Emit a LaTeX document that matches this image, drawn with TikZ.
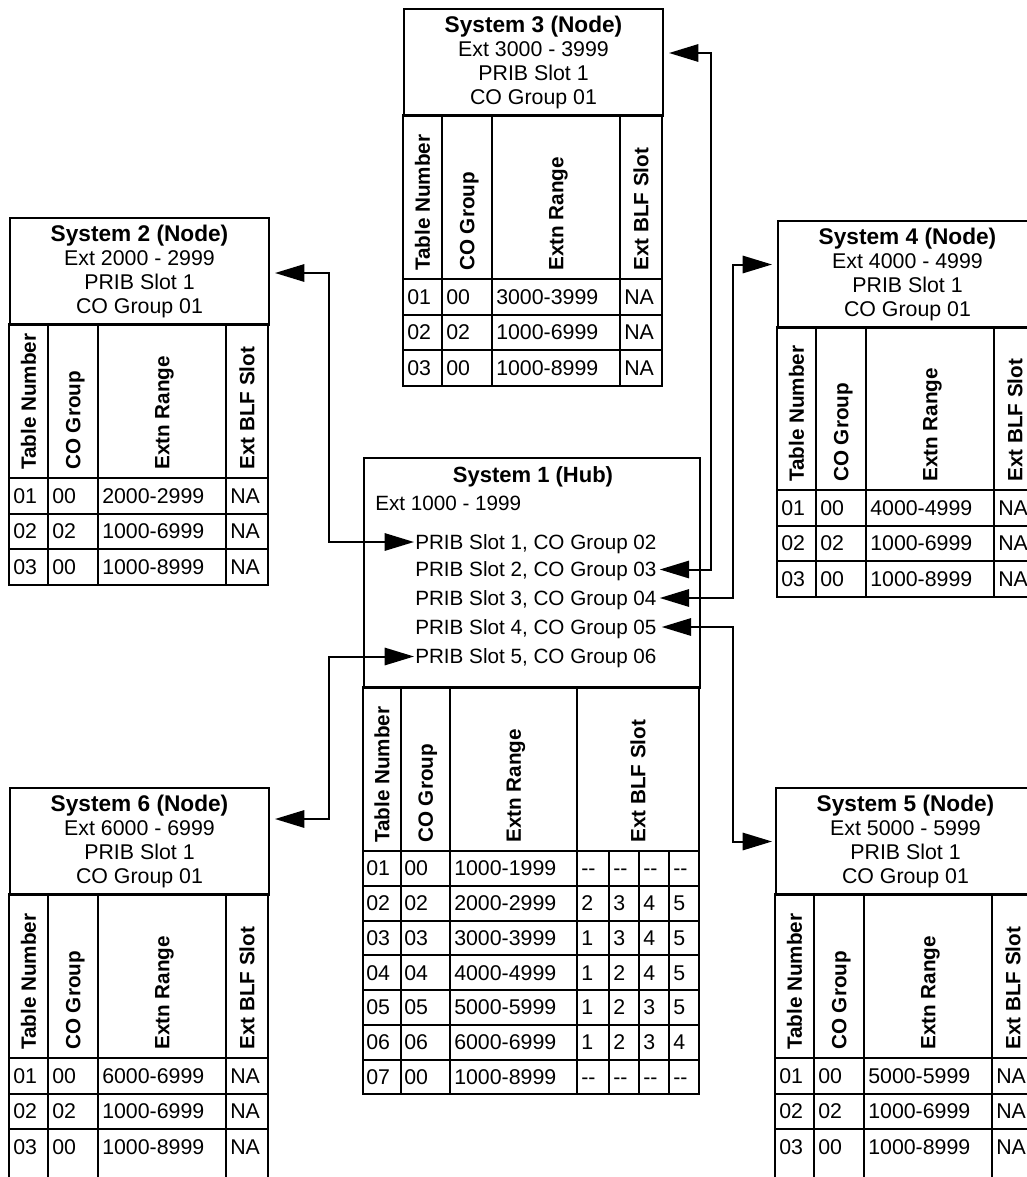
\documentclass[tikz,border=0pt]{standalone}
\usepackage{fontspec}
\setmainfont{Liberation Sans}
\usetikzlibrary{arrows.meta,calc}
\newcommand\dd{-{}-}
\tikzset{
  lw/.style={line width=1.5pt},
  hbox/.style={draw, line width=1.5pt, minimum width=194.25pt, minimum height=80.25pt, inner sep=0pt, align=center, font=\fontsize{16}{17.8}\selectfont},
  hdr/.style={rotate=90, anchor=west, inner sep=0pt, text height=11.1pt, text depth=0pt, font=\bfseries\fontsize{15.5}{18}\selectfont},
  cell/.style={anchor=west, inner sep=0pt, text height=11.4pt, text depth=0pt, font=\fontsize{16}{18}\selectfont},
  hubtxt/.style={anchor=west, inner sep=0pt, text height=11.1pt, text depth=0pt, font=\fontsize{15.5}{18}\selectfont},
  hubttl/.style={anchor=center, inner sep=0pt, text height=11.8pt, text depth=0pt, font=\bfseries\fontsize{16.5}{18}\selectfont},
  con/.style={line width=1.5pt, {Triangle[length=22pt,width=13pt]}-{Triangle[length=22pt,width=13pt]}},
}
% #1 name, #2 x, #3 y, #4 table header bottom offset, #5 table bottom offset, #6 title, #7 rows
\newcommand\sysnode[7]{%
  \node[hbox, anchor=north west] (#1) at (#2,#3) {#6};
  \begin{scope}[shift={(#2,#3)}]
    \draw[lw] (0,107) rectangle (259,#5);
    \draw[lw] (0,#4) -- (259,#4);
    \foreach \k in {1,2} \draw[lw] (0,#4+35.5*\k) -- (259,#4+35.5*\k);
    \foreach \xx in {39,89,217} \draw[lw] (\xx,107) -- (\xx,#5);
    \node[hdr] (#1-h1) at (19.5,#4-8) {Table Number};
    \node[hdr] (#1-h2) at (64,#4-8) {CO Group};
    \node[hdr] (#1-h3) at (153,#4-8) {Extn Range};
    \node[hdr] (#1-h4) at (238,#4-8) {Ext BLF Slot};
    \foreach \a/\b/\c/\d [count=\i] in {#7} {
      \pgfmathsetmacro\yc{#4+35.5*\i-17.75}
      \node[cell] (#1-\i-1) at (4,\yc) {\a};
      \node[cell] (#1-\i-2) at (43,\yc) {\b};
      \node[cell] (#1-\i-3) at (93,\yc) {\c};
      \node[cell] (#1-\i-4) at (221,\yc) {\d};
    }
  \end{scope}
}
\begin{document}
\begin{tikzpicture}[x=0.75pt,y=-0.75pt]
\useasboundingbox (0,0) rectangle (1027,1177);

% node systems
\sysnode{s3}{403}{8}{271}{377.5}{\textbf{\fontsize{17}{17.8}\selectfont System 3 (Node)}\\Ext 3000 - 3999\\PRIB Slot 1\\CO Group 01}{01/00/3000-3999/NA, 02/02/1000-6999/NA, 03/00/1000-8999/NA}
\sysnode{s2}{9}{217}{261}{367.5}{\textbf{\fontsize{17}{17.8}\selectfont System 2 (Node)}\\Ext 2000 - 2999\\PRIB Slot 1\\CO Group 01}{01/00/2000-2999/NA, 02/02/1000-6999/NA, 03/00/1000-8999/NA}
\sysnode{s4}{777}{220}{270}{376.5}{\textbf{\fontsize{17}{17.8}\selectfont System 4 (Node)}\\Ext 4000 - 4999\\PRIB Slot 1\\CO Group 01}{01/00/4000-4999/NA, 02/02/1000-6999/NA, 03/00/1000-8999/NA}
\sysnode{s6}{9}{787}{271}{400}{\textbf{\fontsize{17}{17.8}\selectfont System 6 (Node)}\\Ext 6000 - 6999\\PRIB Slot 1\\CO Group 01}{01/00/6000-6999/NA, 02/02/1000-6999/NA, 03/00/1000-8999/NA}
\sysnode{s5}{775}{787}{271}{400}{\textbf{\fontsize{17}{17.8}\selectfont System 5 (Node)}\\Ext 5000 - 5999\\PRIB Slot 1\\CO Group 01}{01/00/5000-5999/NA, 02/02/1000-6999/NA, 03/00/1000-8999/NA}

% hub
\node[draw, line width=1.5pt, minimum width=252pt, minimum height=172.5pt, inner sep=0pt, anchor=north west] (hub) at (363,457) {};
\node[hubttl] (hubt) at (533,475) {System 1 (Hub)};
\node[hubtxt] (hube) at (375,503) {Ext 1000 - 1999};
\node[hubtxt] (p1) at (415,542) {PRIB Slot 1, CO Group 02};
\node[hubtxt] (p2) at (415,569.5) {PRIB Slot 2, CO Group 03};
\node[hubtxt] (p3) at (415,598) {PRIB Slot 3, CO Group 04};
\node[hubtxt] (p4) at (415,627) {PRIB Slot 4, CO Group 05};
\node[hubtxt] (p5) at (415,656.5) {PRIB Slot 5, CO Group 06};

% hub table
\draw[lw] (363,687) rectangle (699,1094.25);
\draw[lw] (363,851) -- (699,851);
\foreach \k in {1,...,6} \draw[lw] (363,851+34.75*\k) -- (699,851+34.75*\k);
\foreach \xx in {401,450,577} \draw[lw] (\xx,687) -- (\xx,1094.25);
\foreach \xx in {609,639,669} \draw[lw] (\xx,851) -- (\xx,1094.25);
\node[hdr] (hh1) at (382,843) {Table Number};
\node[hdr] (hh2) at (425.5,843) {CO Group};
\node[hdr] (hh3) at (513.5,843) {Extn Range};
\node[hdr] (hh4) at (638,843) {Ext BLF Slot};
\foreach \a/\b/\c/\d/\e/\f/\g [count=\i] in {01/00/1000-1999/\dd/\dd/\dd/\dd, 02/02/2000-2999/2/3/4/5, 03/03/3000-3999/1/3/4/5, 04/04/4000-4999/1/2/4/5, 05/05/5000-5999/1/2/3/5, 06/06/6000-6999/1/2/3/4, 07/00/1000-8999/\dd/\dd/\dd/\dd} {
  \pgfmathsetmacro\yc{851+34.75*\i-17.4}
  \node[cell] (hr\i-1) at (366,\yc) {\a};
  \node[cell] (hr\i-2) at (404,\yc) {\b};
  \node[cell] (hr\i-3) at (454,\yc) {\c};
  \node[cell] (hr\i-4) at (581,\yc) {\d};
  \node[cell] (hr\i-5) at (613,\yc) {\e};
  \node[cell] (hr\i-6) at (643,\yc) {\f};
  \node[cell] (hr\i-7) at (673,\yc) {\g};
}

% connectors
\coordinate (vL) at (329,0);
\coordinate (vR1) at (711,0);
\coordinate (vR2) at (733,0);
\draw[con] ($(p1.west)+(-1,0)$) -- (p1.west -| vL) |- ($(s2.east)+(5,1.5)$);
\draw[con] ($(p2.east)+(3,0)$) -- (p2.east -| vR1) |- ($(s3.east)+(5,-9.5)$);
\draw[con] ($(p3.east)+(3,0)$) -- (p3.east -| vR2) |- ($(s4.west)+(-5,-10)$);
\draw[con] ($(p4.east)+(5,0)$) -- (p4.east -| vR2) |- ($(s5.west)+(-3,0)$);
\draw[con] ($(p5.west)+(-1,0)$) -- (p5.west -| vL) |- ($(s6.east)+(5,-22.5)$);
\end{tikzpicture}
\end{document}
